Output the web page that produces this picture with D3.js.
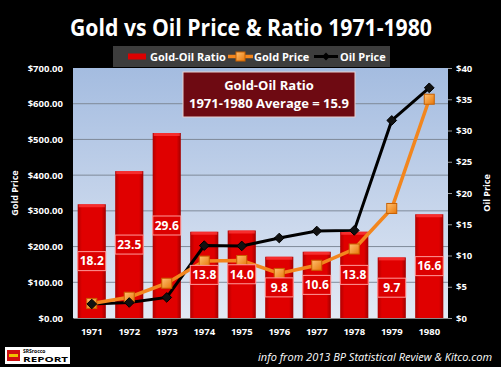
<!DOCTYPE html>
<html>
<head>
<meta charset="utf-8">
<script src="https://cdn.jsdelivr.net/npm/d3@7"></script>
<style>
  body { margin: 0; background: #000; }
  svg { display: block; }
  text { font-family: "Open Sans", "Noto Sans", sans-serif; }
</style>
</head>
<body>
<script>
// data (gold: $/oz, oil: $/bbl)
const years = ["1971", "1972", "1973", "1974", "1975", "1976", "1977", "1978", "1979", "1980"];
const goldPrice = [40.8, 58.2, 97.3, 159.3, 161.0, 124.8, 147.7, 193.2, 306.7, 612.6];
const oilPrice = [2.24, 2.48, 3.29, 11.58, 11.53, 12.80, 13.92, 14.02, 31.61, 36.83];
const ratio = [18.2, 23.5, 29.6, 13.8, 14.0, 9.8, 10.6, 13.8, 9.7, 16.6];
const goldTicks = [0, 100, 200, 300, 400, 500, 600, 700];
const oilTicks = [0, 5, 10, 15, 20, 25, 30, 35, 40];

const W = 501, H = 367;
const m = { top: 68, right: 53, bottom: 49, left: 73 };
const pw = W - m.left - m.right, ph = H - m.top - m.bottom;

const svg = d3.select("body").append("svg").attr("width", W).attr("height", H);
svg.append("rect").attr("width", W).attr("height", H).attr("fill", "#000");

const defs = svg.append("defs");
const bg = defs.append("linearGradient").attr("id", "bg").attr("x1", 0).attr("x2", 0).attr("y1", 0).attr("y2", 1);
bg.append("stop").attr("offset", "0%").attr("stop-color", "#a4bce0");
bg.append("stop").attr("offset", "100%").attr("stop-color", "#e2e9f4");
const barG = defs.append("linearGradient").attr("id", "barG").attr("x1", 0).attr("x2", 1).attr("y1", 0).attr("y2", 0);
barG.append("stop").attr("offset", "0%").attr("stop-color", "#b00000");
barG.append("stop").attr("offset", "15%").attr("stop-color", "#e00000");
barG.append("stop").attr("offset", "85%").attr("stop-color", "#e00000");
barG.append("stop").attr("offset", "100%").attr("stop-color", "#a00000");
const sq = defs.append("linearGradient").attr("id", "sq").attr("x1", 0).attr("x2", 1).attr("y1", 0).attr("y2", 1);
sq.append("stop").attr("offset", "0%").attr("stop-color", "#ffc070");
sq.append("stop").attr("offset", "100%").attr("stop-color", "#e8780a");

// title
svg.append("text").attr("x", 251).attr("y", 36).attr("text-anchor", "middle")
  .attr("fill", "#fff").attr("font-weight", "bold").attr("font-size", 23)
  .attr("font-family", "'Noto Sans', sans-serif")
  .attr("textLength", 362).attr("lengthAdjust", "spacingAndGlyphs")
  .text("Gold vs Oil Price & Ratio 1971-1980");

const x = d3.scaleBand().domain(years).range([0, pw]).paddingInner(0.25).paddingOuter(0.125);
const yGold = d3.scaleLinear().domain([0, 700]).range([ph, 0]);
const yOil = d3.scaleLinear().domain([0, 40]).range([ph, 0]);

const g = svg.append("g").attr("transform", `translate(${m.left},${m.top})`);
g.append("rect").attr("width", pw).attr("height", ph).attr("fill", "url(#bg)");

// gridlines
g.selectAll("line.grid").data(goldTicks.slice(1, -1)).join("line")
  .attr("x1", 0).attr("x2", pw)
  .attr("y1", d => yGold(d)).attr("y2", d => yGold(d))
  .attr("stroke", "#7f8a99").attr("stroke-width", 1);

// ratio bars (on oil axis)
g.selectAll("rect.bar").data(ratio).join("rect")
  .attr("x", (d, i) => x(years[i]))
  .attr("y", d => yOil(d))
  .attr("width", x.bandwidth())
  .attr("height", d => ph - yOil(d))
  .attr("fill", "url(#barG)");
g.selectAll("rect.bartop").data(ratio).join("rect")
  .attr("x", (d, i) => x(years[i]) + 1)
  .attr("y", d => yOil(d))
  .attr("width", x.bandwidth() - 2)
  .attr("height", 3)
  .attr("fill", "#ff4040").attr("opacity", 0.7);

// lines
const cx = i => x(years[i]) + x.bandwidth() / 2;
const goldLine = d3.line().x((d, i) => cx(i)).y(d => yGold(d));
const oilLine = d3.line().x((d, i) => cx(i)).y(d => yOil(d));

g.append("path").datum(oilPrice).attr("d", oilLine)
  .attr("fill", "none").attr("stroke", "#000").attr("stroke-width", 3);
g.append("path").datum(goldPrice).attr("d", goldLine)
  .attr("fill", "none").attr("stroke", "#f2861e").attr("stroke-width", 3.5);

g.selectAll("rect.gm").data(goldPrice).join("rect")
  .attr("x", (d, i) => cx(i) - 5).attr("y", d => yGold(d) - 5)
  .attr("width", 10).attr("height", 10)
  .attr("fill", "url(#sq)").attr("stroke", "#c86000").attr("stroke-width", 1);

g.selectAll("path.om").data(oilPrice).join("path")
  .attr("transform", (d, i) => `translate(${cx(i)},${yOil(d)})`)
  .attr("d", d3.symbol(d3.symbolDiamond2, 60))
  .attr("fill", "#111").attr("stroke", "#000");

// ratio labels
const lab = g.selectAll("g.lab").data(ratio).join("g")
  .attr("transform", (d, i) => `translate(${cx(i)},${(yOil(d) + ph) / 2})`);
lab.append("rect").attr("x", -14).attr("y", -9.5).attr("width", 28).attr("height", 19)
  .attr("fill", "#dc0000").attr("stroke", "#ff9a9a").attr("stroke-width", 1);
lab.append("text").attr("text-anchor", "middle").attr("dy", "0.36em")
  .attr("fill", "#fff").attr("font-weight", "bold").attr("font-size", 12)
  .text(d => d.toFixed(1));

// left axis
const yAxisL = d3.axisLeft(yGold).tickValues(goldTicks).tickSize(0).tickPadding(10)
  .tickFormat(d => "$" + d3.format(".2f")(d));
const ga = g.append("g").call(yAxisL);
ga.select(".domain").remove();
ga.selectAll("text").attr("fill", "#fff").attr("font-weight", "bold").attr("font-size", 9.5)
  .attr("font-family", "'DejaVu Sans', sans-serif");

// right axis
const yAxisR = d3.axisRight(yOil).tickValues(oilTicks).tickSize(4).tickPadding(4)
  .tickFormat(d => "$" + d);
const gr = g.append("g").attr("transform", `translate(${pw},0)`).call(yAxisR);
gr.select(".domain").remove();
gr.selectAll("line").attr("stroke", "#999");
gr.selectAll("text").attr("fill", "#fff").attr("font-weight", "bold").attr("font-size", 9.5)
  .attr("font-family", "'DejaVu Sans', sans-serif");

// x axis
const xa = g.append("g").attr("transform", `translate(0,${ph})`)
  .call(d3.axisBottom(x).tickSize(0).tickPadding(10));
xa.select(".domain").attr("stroke", "#888");
xa.selectAll("text").attr("fill", "#fff").attr("font-weight", "bold").attr("font-size", 9.5)
  .attr("font-family", "'DejaVu Sans', sans-serif");

// axis titles
svg.append("text").attr("transform", `translate(18,${m.top + ph / 2}) rotate(-90)`)
  .attr("text-anchor", "middle").attr("fill", "#fff").attr("font-weight", "bold").attr("font-size", 9)
  .text("Gold  Price");
svg.append("text").attr("transform", `translate(490,${m.top + ph / 2}) rotate(-90)`)
  .attr("text-anchor", "middle").attr("fill", "#fff").attr("font-weight", "bold").attr("font-size", 9)
  .text("Oil Price");

// annotation box
const ann = svg.append("g");
ann.append("rect").attr("x", 183).attr("y", 72).attr("width", 172).attr("height", 45)
  .attr("fill", "#6e0a12").attr("stroke", "#e8d0d0").attr("stroke-width", 1);
ann.append("text").attr("x", 269).attr("y", 90).attr("text-anchor", "middle")
  .attr("fill", "#fff").attr("font-weight", "bold").attr("font-size", 13).text("Gold-Oil Ratio");
ann.append("text").attr("x", 269).attr("y", 108).attr("text-anchor", "middle")
  .attr("fill", "#fff").attr("font-weight", "bold").attr("font-size", 13).text("1971-1980 Average = 15.9");

// legend
const lg = svg.append("g");
lg.append("rect").attr("x", 113).attr("y", 46).attr("width", 277).attr("height", 21).attr("fill", "#3d3d3d");
lg.append("rect").attr("x", 128).attr("y", 53.5).attr("width", 18).attr("height", 6).attr("fill", "#dc0000");
lg.append("text").attr("x", 150).attr("y", 60.5).attr("fill", "#fff").attr("font-weight", "bold")
  .attr("font-size", 11).text("Gold-Oil Ratio");
lg.append("line").attr("x1", 228).attr("x2", 253).attr("y1", 56.5).attr("y2", 56.5)
  .attr("stroke", "#f2861e").attr("stroke-width", 3.5);
lg.append("rect").attr("x", 236).attr("y", 52).attr("width", 9).attr("height", 9)
  .attr("fill", "url(#sq)").attr("stroke", "#c86000");
lg.append("text").attr("x", 254).attr("y", 60.5).attr("fill", "#fff").attr("font-weight", "bold")
  .attr("font-size", 11).text("Gold Price");
lg.append("line").attr("x1", 314).attr("x2", 338).attr("y1", 56.5).attr("y2", 56.5)
  .attr("stroke", "#000").attr("stroke-width", 3);
lg.append("path").attr("transform", "translate(326,56.5)").attr("d", d3.symbol(d3.symbolDiamond2, 40)).attr("fill", "#000");
lg.append("text").attr("x", 340).attr("y", 60.5).attr("fill", "#fff").attr("font-weight", "bold")
  .attr("font-size", 11).text("Oil Price");

// footer
svg.append("text").attr("x", 492).attr("y", 361).attr("text-anchor", "end")
  .attr("fill", "#fff").attr("font-style", "italic").attr("font-size", 11)
  .attr("font-family", "'Liberation Sans', Arial, sans-serif")
  .text("info from 2013 BP Statistical Review & Kitco.com");

// logo
const logo = svg.append("g").attr("transform", "translate(5,347)");
logo.append("rect").attr("width", 65).attr("height", 17).attr("fill", "#fff");
logo.append("rect").attr("x", 2).attr("y", 3).attr("width", 13).attr("height", 11).attr("fill", "#d01010");
logo.append("rect").attr("x", 4).attr("y", 7).attr("width", 9).attr("height", 3).attr("fill", "#f0c000");
logo.append("text").attr("x", 18).attr("y", 5.5).attr("font-size", 5).attr("font-weight", "bold")
  .attr("fill", "#000").attr("font-family", "'Liberation Sans', sans-serif").text("SRSrocco");
logo.append("text").attr("x", 18).attr("y", 15).attr("font-size", 7)
  .attr("font-weight", "bold").attr("fill", "#000").attr("font-family", "'Liberation Sans', sans-serif")
  .attr("textLength", 45).attr("lengthAdjust", "spacingAndGlyphs").text("REPORT");
</script>
</body>
</html>
